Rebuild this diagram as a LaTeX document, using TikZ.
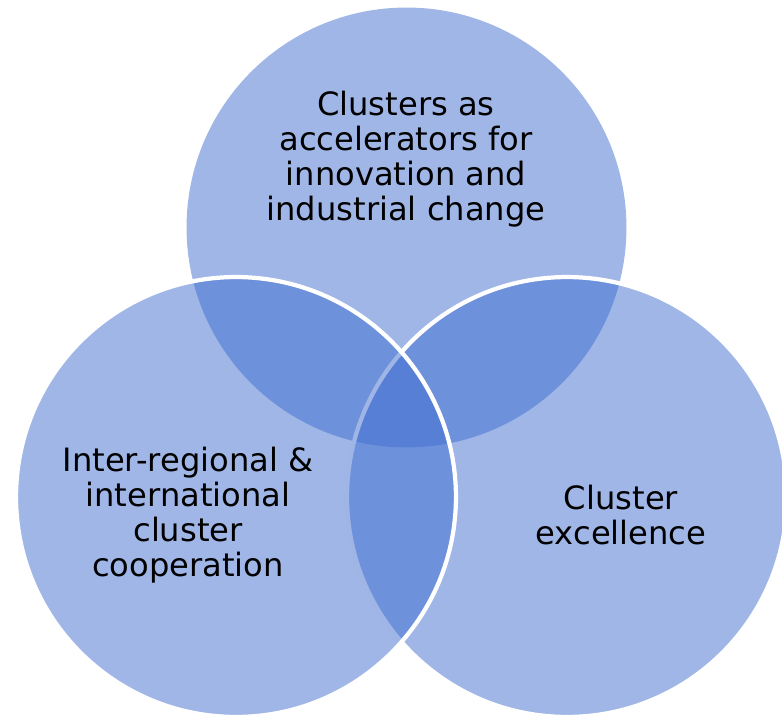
\documentclass[tikz,border=0pt]{standalone}
\usepackage{fontspec}
\setmainfont{DejaVu Sans}
\definecolor{vennblue}{RGB}{63,109,207}
\tikzset{
  venn/.style={circle, inner sep=0pt, minimum size=8.8cm, fill=vennblue, fill opacity=0.5},
  rim/.style={draw=white, line width=2.4pt},
  label/.style={align=center, font=\fontsize{18.3}{19.9}\selectfont, text=black}
}
\begin{document}
\begin{tikzpicture}[x=0.02cm, y=-0.02cm]
    \clip (0,0) rectangle (782,716);
    \path[use as bounding box] (0,0) rectangle (782,716);
    % the three sets
    \node[venn] (acc) at (406.5,227.5) {};
    \node[venn, rim] (exc) at (567,497) {};
    \node[venn, rim] (coop) at (236,497) {};
    % texts
    \node[label] (acctext) at (406,159) {Clusters as\\accelerators for\\innovation and\\industrial change};
    \node[label] (cooptext) at (188,515) {Inter-regional \&\\international\\cluster\\cooperation};
    \node[label] (exctext) at (621,515) {Cluster\\excellence};
\end{tikzpicture}
\end{document}
